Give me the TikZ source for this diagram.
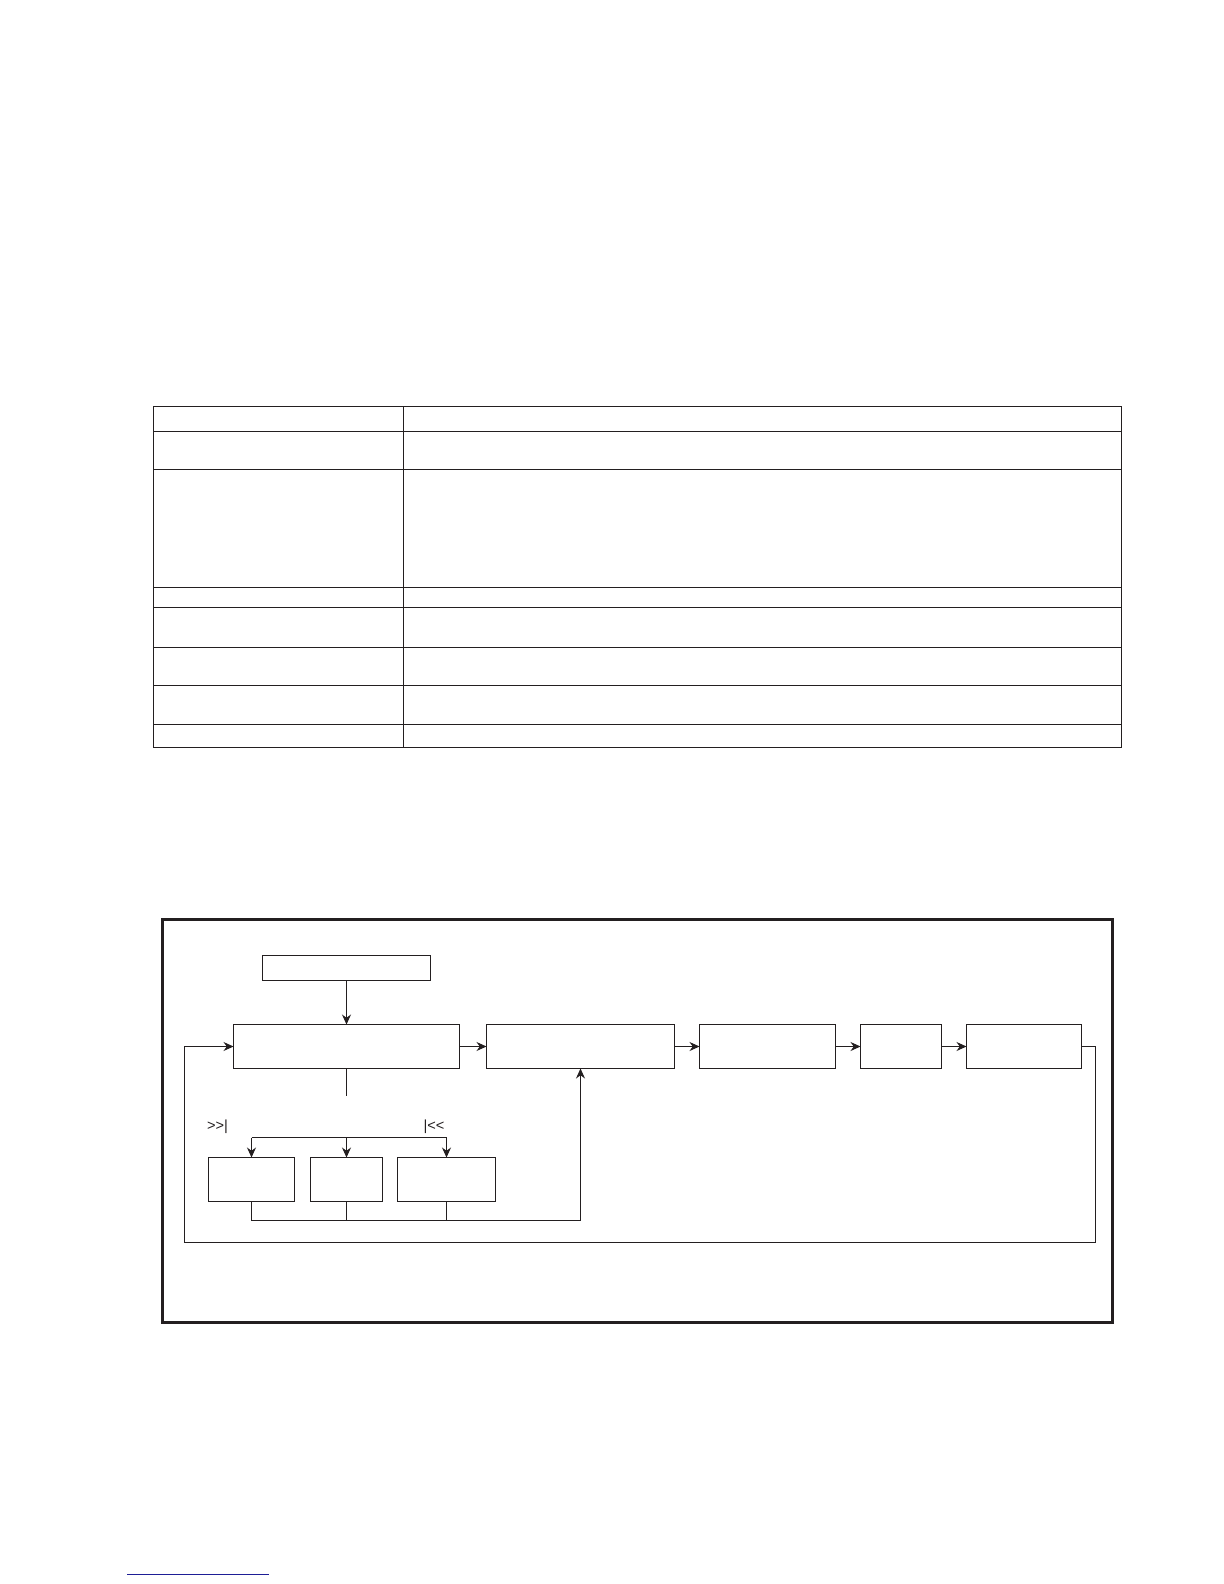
\documentclass[tikz,border=0pt]{standalone}
\usepackage{fontspec}
\setmainfont{Liberation Sans}
\usetikzlibrary{arrows.meta}
\definecolor{ink}{RGB}{35,31,32}
\definecolor{linkblue}{RGB}{30,30,150}
\tikzset{
  box/.style={draw=ink, line width=0.55pt, rectangle, inner sep=0pt, outer sep=0pt, minimum height=22pt},
  subbox/.style={box, minimum height=22pt},
  wire/.style={draw=ink, line width=0.55pt},
  arr/.style={wire, -{Stealth[length=5pt, width=4.5pt]}},
  grid/.style={draw=ink, line width=0.6pt},
  frame/.style={draw=ink, line width=1.5pt},
  lbl/.style={inner sep=0pt, outer sep=0pt, font=\fontsize{7.3}{8}\selectfont, text=ink},
  link/.style={draw=linkblue, line width=0.6pt}
}
\begin{document}
\begin{tikzpicture}[x=0.5pt, y=-0.5pt]
\useasboundingbox (0,0) rectangle (1224,1584);

% ---------- table (empty grid) ----------
\draw[grid] (153.5,406.5) rectangle (1121.5,747.5);
\draw[grid] (403.5,406.5) -- (403.5,747.5);
\foreach \yy in {431.5,469.5,587.5,607.5,647.5,685.5,724.5}
  \draw[grid] (153.5,\yy) -- (1121.5,\yy);

% ---------- outer frame ----------
\draw[frame] (162.5,919.5) rectangle (1112.5,1322.5);

% ---------- flowchart boxes ----------
\node[box, minimum width=84pt, minimum height=12.5pt] (top) at (346.5,968) {};
\node[box, minimum width=113pt] (A) at (346.5,1046.5) {};
\node[box, minimum width=94pt]  (B) at (580.5,1046.5) {};
\node[box, minimum width=68pt]  (C) at (767.5,1046.5) {};
\node[box, minimum width=40.5pt] (D) at (901,1046.5) {};
\node[box, minimum width=57.5pt] (E) at (1024,1046.5) {};

\node[subbox, minimum width=43pt] (S1) at (251.5,1179.5) {};
\node[subbox, minimum width=36pt] (S2) at (346.5,1179.5) {};
\node[subbox, minimum width=49pt] (S3) at (446.5,1179.5) {};

% labels
\node[lbl, anchor=west] (fwd) at (207,1127) {>{}>|};
\node[lbl, anchor=west] (rev) at (423.5,1127) {|<{}<};

% helper coordinates
\coordinate (stub) at (346.5,1095.7);
\coordinate (br)   at (346.5,1137.5);
\coordinate (ret)  at (580.5,1220.5);
\coordinate (loopR) at (1095.5,1242.5);
\coordinate (loopL) at (184.5,1242.5);

% ---------- connectors ----------
\draw[arr] (top.south) -- (A.north);
\draw[arr] (A.east) -- (B.west);
\draw[arr] (B.east) -- (C.west);
\draw[arr] (C.east) -- (D.west);
\draw[arr] (D.east) -- (E.west);

\draw[arr] (E.east) -| (loopR) -- (loopL) |- (A.west);

\draw[wire] (A.south) -- (stub);

\draw[wire] (S1.north |- br) -- (S3.north |- br);
\draw[arr] (S1.north |- br) -- (S1.north);
\draw[arr] (br) -- (S2.north);
\draw[arr] (S3.north |- br) -- (S3.north);

\draw[arr] (S1.south) |- (ret) -- (B.south);
\draw[wire] (S2.south) -- (S2.south |- ret);
\draw[wire] (S3.south) -- (S3.south |- ret);

% ---------- bottom link underline ----------
\draw[link] (127.3,1574.5) -- (268.7,1574.5);
\end{tikzpicture}
\end{document}
